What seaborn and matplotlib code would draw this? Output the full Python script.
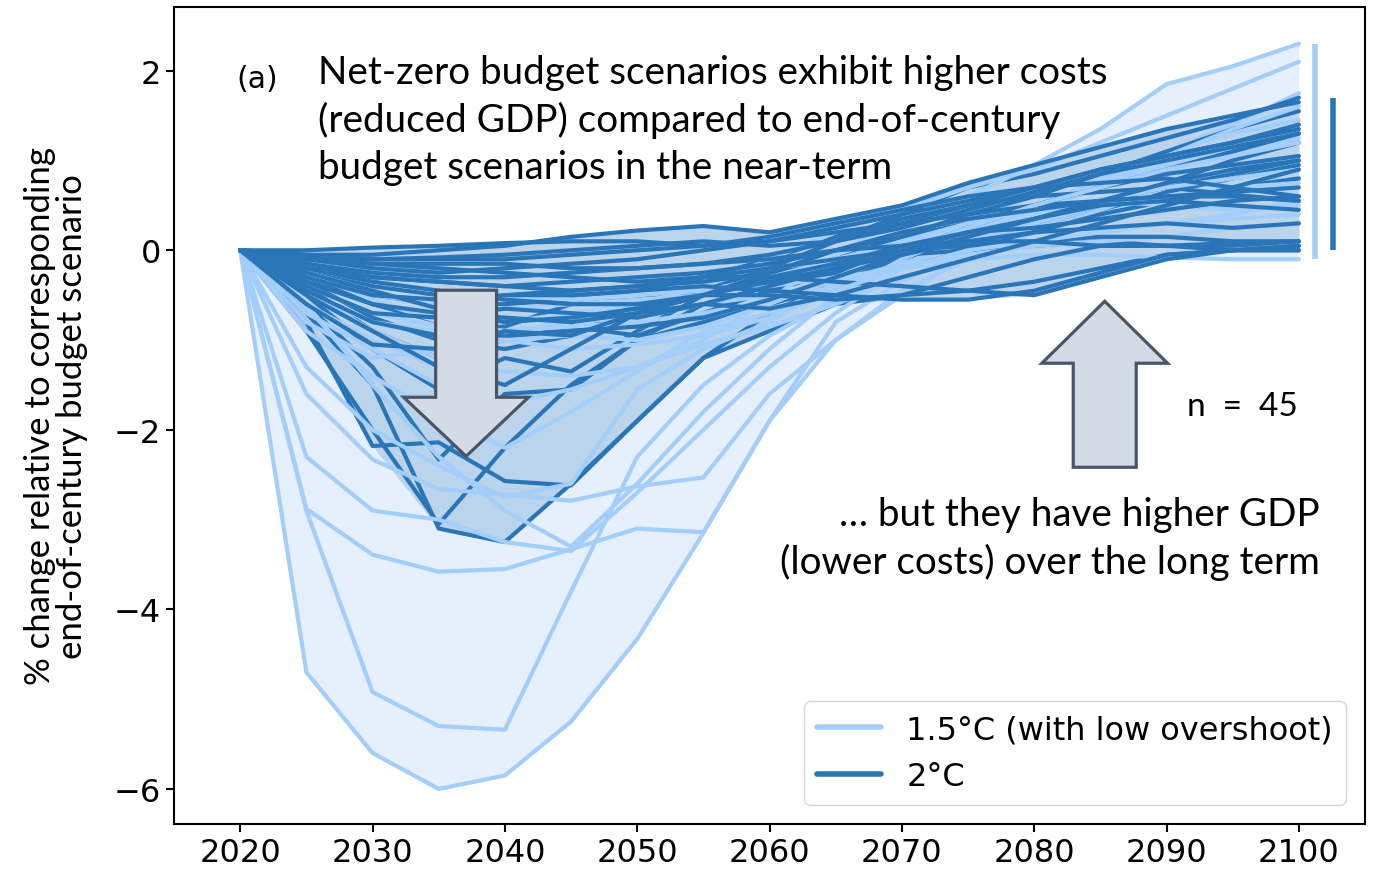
import numpy as np
import pandas as pd
import matplotlib
matplotlib.use("Agg")
import matplotlib.pyplot as plt
from matplotlib.lines import Line2D
from matplotlib.patches import FancyArrow
import seaborn as sns

# years of the scenario runs
years = list(range(2020, 2101, 5))

# % change in GDP, net-zero budget vs end-of-century budget, 1.5C (low overshoot)
gdp_15c = [
    [0, -4.7, -5.6, -6.0, -5.85, -5.25, -4.33, -3.15, -1.9, -0.8, -0.35, 0.0, 0.25, 0.45, 0.6, 0.7, 0.8],
    [0, -2.9, -4.92, -5.3, -5.34, -3.8, -2.3, -1.5, -0.95, -0.55, -0.15, 0.2, 0.5, 0.75, 0.95, 1.1, 1.25],
    [0, -2.88, -3.39, -3.58, -3.55, -3.33, -3.1, -3.14, -1.9, -1.0, -0.45, -0.1, 0.2, 0.45, 0.7, 0.9, 1.05],
    [0, -2.3, -2.9, -3.0, -3.25, -3.35, -2.7, -2.0, -1.3, -0.7, -0.2, 0.15, 0.45, 0.8, 1.1, 1.3, 1.45],
    [0, -1.6, -2.33, -2.66, -2.72, -2.79, -2.63, -2.53, -1.6, -1.0, -0.5, -0.05, 0.35, 0.75, 1.1, 1.4, 1.75],
    [0, -1.3, -2.0, -2.4, -2.75, -2.6, -1.55, -1.1, -0.8, -0.35, 0.05, 0.35, 0.6, 0.85, 1.05, 1.2, 1.4],
    [0, -0.9, -1.4, -1.85, -2.2, -1.8, -1.35, -0.9, -0.7, -0.4, -0.15, 0.1, 0.3, 0.5, 0.6, 0.7, 0.75],
    [0, -0.8, -1.2, -1.1, -0.9, -0.8, -0.75, -0.6, -0.5, -0.35, -0.15, 0.1, 0.4, 0.75, 1.05, 1.35, 1.6],
    [0, -0.6, -1.0, -1.3, -1.35, -1.4, -1.3, -1.0, -0.55, -0.05, 0.35, 0.6, 0.95, 1.35, 1.85, 2.05, 2.3],
    [0, -0.5, -0.8, -0.9, -0.8, -0.7, -0.6, -0.4, -0.1, 0.2, 0.45, 0.7, 0.9, 1.2, 1.5, 1.8, 2.1],
    [0, -0.4, -0.7, -0.85, -0.9, -0.85, -0.8, -0.7, -0.55, -0.4, -0.2, -0.05, 0.05, 0.1, 0.15, 0.25, 0.3],
    [0, -0.3, -0.5, -0.6, -0.65, -0.6, -0.55, -0.5, -0.4, -0.3, -0.2, -0.1, -0.05, -0.05, -0.08, -0.1, -0.1],
    [0, -0.6, -1.5, -2.3, -2.9, -3.3, -2.6, -1.8, -1.1, -0.5, -0.1, 0.2, 0.4, 0.55, 0.7, 0.8, 0.9],
    [0, -0.2, -0.35, -0.45, -0.5, -0.55, -0.5, -0.45, -0.3, -0.1, 0.1, 0.3, 0.45, 0.55, 0.5, 0.45, 0.5],
    [0, -0.7, -1.1, -1.5, -1.7, -1.55, -1.3, -1.05, -0.85, -0.6, -0.3, -0.1, 0.1, 0.2, 0.3, 0.35, 0.4],
    [0, -0.45, -0.9, -1.2, -1.0, -0.95, -1.0, -0.85, -0.6, -0.3, 0.0, 0.25, 0.5, 0.7, 0.9, 1.05, 1.2],
    [0, -0.25, -0.55, -0.8, -1.0, -1.1, -1.05, -0.95, -0.75, -0.45, -0.2, 0.0, 0.1, 0.2, 0.3, 0.4, 0.55],
]

# same for 2C scenarios
gdp_2c = [
    [0, -0.7, -1.5, -3.1, -3.25, -2.6, -1.9, -1.2, -0.9, -0.6, -0.5, -0.45, -0.35, -0.2, -0.05, 0.0, 0.05],
    [0, -0.9, -2.0, -3.05, -2.2, -1.5, -1.0, -0.8, -0.6, -0.4, -0.2, 0.0, 0.2, 0.45, 0.65, 0.8, 0.95],
    [0, -0.8, -2.18, -2.14, -2.57, -2.62, -1.9, -1.2, -0.7, -0.35, -0.1, 0.15, 0.35, 0.55, 0.7, 0.85, 1.0],
    [0, -0.6, -1.3, -2.33, -1.6, -1.55, -1.0, -0.6, -0.4, -0.25, -0.1, 0.05, 0.2, 0.4, 0.55, 0.7, 0.8],
    [0, -0.5, -1.1, -1.55, -1.2, -1.35, -0.9, -0.5, -0.35, -0.2, -0.05, 0.1, 0.3, 0.5, 0.75, 1.0, 1.2],
    [0, -0.4, -0.9, -1.2, -1.0, -0.85, -0.95, -0.7, -0.45, -0.25, 0.0, 0.25, 0.5, 0.7, 0.9, 1.1, 1.3],
    [0, -0.35, -0.75, -1.0, -1.1, -0.95, -0.6, -0.5, -0.35, -0.1, 0.15, 0.4, 0.6, 0.85, 1.1, 1.35, 1.55],
    [0, -0.3, -0.6, -0.8, -0.85, -0.6, -0.55, -0.45, -0.2, 0.1, 0.4, 0.7, 0.85, 1.05, 1.25, 1.45, 1.7],
    [0, -0.25, -0.5, -0.6, -0.6, -0.55, -0.45, -0.3, -0.1, 0.15, 0.35, 0.5, 0.6, 0.65, 0.7, 0.62, 0.55],
    [0, -0.2, -0.4, -0.5, -0.5, -0.45, -0.4, -0.35, -0.25, -0.15, -0.05, 0.0, 0.05, 0.1, 0.05, 0.05, 0.1],
    [0, -0.15, -0.3, -0.35, -0.4, -0.35, -0.3, -0.25, -0.15, 0.0, 0.15, 0.3, 0.5, 0.7, 0.85, 0.95, 1.05],
    [0, -0.1, -0.2, -0.25, -0.2, -0.15, -0.1, 0.0, 0.1, 0.25, 0.4, 0.55, 0.7, 0.9, 1.05, 1.2, 1.35],
    [0, -0.05, -0.05, 0.0, 0.05, 0.15, 0.22, 0.27, 0.2, 0.35, 0.5, 0.75, 0.95, 1.15, 1.35, 1.5, 1.65],
    [0, 0.0, 0.03, 0.05, 0.08, 0.1, 0.1, 0.05, 0.1, 0.2, 0.3, 0.4, 0.5, 0.55, 0.6, 0.65, 0.7],
    [0, -0.1, -0.15, -0.2, -0.25, -0.3, -0.35, -0.3, -0.2, -0.1, 0.0, 0.05, 0.1, 0.15, 0.15, 0.1, 0.1],
    [0, -0.2, -0.3, -0.35, -0.4, -0.45, -0.4, -0.3, -0.3, -0.35, -0.4, -0.45, -0.5, -0.3, -0.1, 0.0, 0.05],
    [0, -0.3, -0.5, -0.55, -0.5, -0.5, -0.45, -0.4, -0.45, -0.5, -0.55, -0.55, -0.45, -0.25, -0.05, 0.0, 0.0],
    [0, -0.15, -0.25, -0.3, -0.3, -0.25, -0.2, -0.15, -0.05, 0.1, 0.3, 0.5, 0.7, 0.9, 1.05, 1.2, 1.4],
    [0, -0.05, -0.1, -0.1, -0.1, -0.05, 0.0, 0.05, 0.15, 0.3, 0.45, 0.6, 0.7, 0.75, 0.8, 0.7, 0.6],
    [0, -0.4, -0.7, -0.75, -0.65, -0.7, -0.75, -0.6, -0.4, -0.2, 0.0, 0.2, 0.35, 0.5, 0.55, 0.5, 0.45],
    [0, -0.5, -0.9, -1.3, -1.5, -1.1, -0.7, -0.6, -0.65, -0.5, -0.3, -0.1, 0.1, 0.3, 0.5, 0.7, 0.9],
    [0, -0.6, -1.05, -1.1, -0.9, -0.95, -0.7, -0.5, -0.3, -0.15, 0.05, 0.2, 0.25, 0.35, 0.45, 0.55, 0.6],
    [0, -0.1, -0.15, -0.15, -0.15, -0.2, -0.2, -0.15, -0.1, 0.0, 0.05, 0.1, 0.1, 0.05, 0.05, 0.08, 0.1],
    [0, -0.2, -0.35, -0.45, -0.55, -0.6, -0.6, -0.5, -0.5, -0.55, -0.5, -0.3, -0.1, 0.05, 0.05, 0.0, 0.0],
    [0, -0.08, -0.1, -0.08, -0.05, 0.0, 0.05, 0.1, 0.05, 0.1, 0.25, 0.45, 0.65, 0.85, 1.0, 1.15, 1.3],
    [0, -0.35, -0.6, -0.7, -0.75, -0.8, -0.7, -0.5, -0.25, 0.0, 0.2, 0.35, 0.45, 0.55, 0.6, 0.6, 0.55],
    [0, -0.45, -0.8, -0.95, -0.95, -0.9, -0.85, -0.75, -0.55, -0.3, -0.05, 0.1, 0.2, 0.25, 0.3, 0.25, 0.3],
    [0, -0.25, -0.45, -0.65, -0.8, -0.75, -0.65, -0.5, -0.35, -0.2, -0.05, 0.15, 0.35, 0.55, 0.75, 0.9, 1.0],
]

labels = ["1.5°C (with low overshoot)", "2°C"]
light = "#a3cefa"
dark = "#2a75b8"

sns.set_style("ticks")
plt.rcParams["font.family"] = ["DejaVu Sans"]
for key in ("text.color", "axes.labelcolor", "xtick.color", "ytick.color", "axes.edgecolor"):
    plt.rcParams[key] = "black"
text_font = ["Lato", "DejaVu Sans"]

fig = plt.figure(figsize=(13.77, 8.78), dpi=100)
ax = fig.add_axes([0.1264, 0.0604, 0.8649, 0.9305])

# envelopes
a15 = np.array(gdp_15c)
a2 = np.array(gdp_2c)
ax.fill_between(years, a15.min(axis=0), a15.max(axis=0), color="#e6f0fc", lw=0, zorder=1)
ax.fill_between(years, a2.min(axis=0), a2.max(axis=0), color="#b9d4eb", lw=0, zorder=1.5)

# individual scenario lines, interleaved
n_max = max(len(gdp_15c), len(gdp_2c))
for i in range(n_max):
    for group, col in ((gdp_15c, light), (gdp_2c, dark)):
        if i < len(group):
            sns.lineplot(x=years, y=group[i], color=col, lw=3.0, ax=ax, legend=False, zorder=2)

# ranges at 2100
ax.vlines(2101.2, a15[:, -1].min(), a15[:, -1].max(), color=light, lw=4)
ax.vlines(2102.6, a2[:, -1].min(), a2[:, -1].max(), color=dark, lw=4)

# arrows
arrow_style = dict(length_includes_head=True, facecolor="#d4dbe5", edgecolor="#4a5568", lw=2.3, zorder=5)
ax.add_patch(FancyArrow(2037.07, -0.445, 0, -1.849, width=4.6, head_width=9.44, head_length=0.657, **arrow_style))
ax.add_patch(FancyArrow(2085.33, -2.417, 0, 1.849, width=4.76, head_width=9.5, head_length=0.69, **arrow_style))

# text
ax.text(0.052, 0.913, "(a)", transform=ax.transAxes, fontsize=21.5, va="center", ha="left")
ax.text(0.1209, 0.943, "Net-zero budget scenarios exhibit higher costs\n(reduced GDP) compared to end-of-century\nbudget scenarios in the near-term",
        transform=ax.transAxes, fontsize=27.8, va="top", ha="left", family=text_font, linespacing=1.38)
ax.text(0.8505, 0.5116, "n  =  45", transform=ax.transAxes, fontsize=24, va="center", ha="left", family=text_font)
ax.text(0.9622, 0.402, "… but they have higher GDP\n(lower costs) over the long term",
        transform=ax.transAxes, fontsize=27.8, va="top", ha="right", multialignment="right", family=text_font, linespacing=1.38)

ax.set_xlim(2015, 2105)
ax.set_ylim(-6.39, 2.71)
ax.set_xticks(range(2020, 2101, 10))
ax.set_yticks([-6, -4, -2, 0, 2])
ax.tick_params(labelsize=23, length=6, width=1.5)
for s in ax.spines.values():
    s.set_linewidth(1.5)
    s.set_color("black")
ax.set_ylabel("% change relative to corresponding\nend-of-century budget scenario", fontsize=25, family=text_font, linespacing=1.02)
ax.yaxis.set_label_coords(-0.072, 0.5)

handles = [Line2D([0], [0], color=light, lw=4), Line2D([0], [0], color=dark, lw=4)]
ax.legend(handles, labels, loc="lower right", fontsize=23, handlelength=2.0, frameon=True, borderaxespad=0.6)

fig.savefig("out.png", dpi=100)
